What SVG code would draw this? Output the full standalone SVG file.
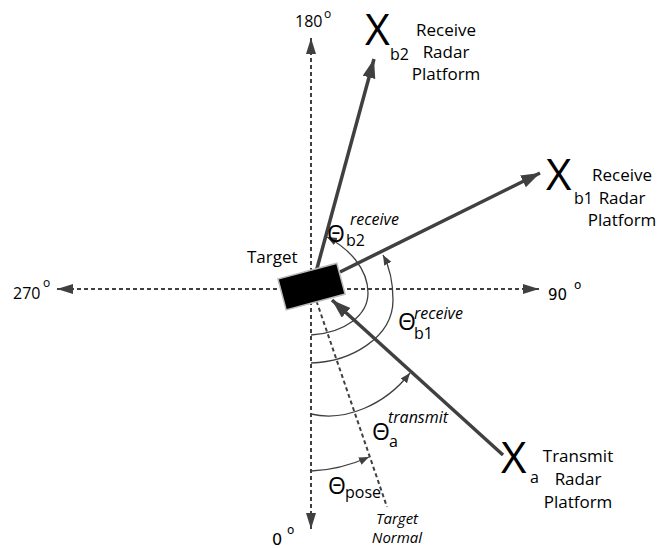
<svg xmlns="http://www.w3.org/2000/svg" width="666" height="548" viewBox="0 0 666 548">
<defs>
<style>
.axis{stroke:#404040;stroke-width:2;stroke-dasharray:4 3;fill:none}
.thick{stroke:#404040;stroke-width:3.5;fill:none}
.arc{stroke:#404040;stroke-width:1.3;fill:none}
.t{font-family:"Open Sans","Liberation Sans",sans-serif;fill:#000}
.dv{font-family:"DejaVu Sans",sans-serif;fill:#000}
.it{font-style:italic}
</style>
<marker id="ha" markerUnits="userSpaceOnUse" markerWidth="18" markerHeight="12" refX="16" refY="5" orient="auto">
<path d="M0,0 L16,5 L0,10 Z" fill="#404040"/>
</marker>
<marker id="hb" markerUnits="userSpaceOnUse" markerWidth="22" markerHeight="14" refX="19" refY="6.5" orient="auto">
<path d="M0,0 L19,6.5 L0,13 Z" fill="#404040"/>
</marker>
<marker id="hs" markerUnits="userSpaceOnUse" markerWidth="12" markerHeight="10" refX="10" refY="4" orient="auto">
<path d="M0,0 L10,4 L0,8 Z" fill="#404040"/>
</marker>
</defs>

<g id="connectors">
<line class="axis" x1="311" y1="300" x2="311" y2="38" marker-end="url(#ha)"/>
<line class="axis" x1="311" y1="280" x2="311" y2="529" marker-end="url(#ha)"/>
<line class="axis" x1="312" y1="289" x2="57" y2="289" marker-end="url(#ha)"/>
<line class="axis" x1="312" y1="289" x2="539" y2="289" marker-end="url(#ha)"/>
<line class="axis" x1="312" y1="288" x2="387" y2="507"/>
<line class="thick" x1="316" y1="272" x2="374" y2="59" marker-end="url(#hb)"/>
<line class="thick" x1="340" y1="272" x2="540" y2="173" marker-end="url(#hb)"/>
<line class="thick" x1="503" y1="455" x2="332" y2="300" marker-end="url(#hb)"/>
<path class="arc" d="M311,471 Q340,470 369,457" marker-end="url(#hs)"/>
<path class="arc" d="M311,414 C345,422 385,405 410,373" marker-end="url(#hs)"/>
<path class="arc" d="M311,363 C350,362 393,338 393,300 C393,282 389,266 383,255" marker-end="url(#hs)"/>
<path class="arc" d="M311,335 C345,333 368,315 368,293 C368,268 348,248 327,237" marker-end="url(#hs)"/>
</g>

<g id="target">
<rect x="281" y="270.5" width="61" height="32" transform="rotate(-15 311.75 286.5)" fill="#000" stroke="#bbbbbb" stroke-width="1.5"/>
<text class="t" x="247" y="263" font-size="17">Target</text>
</g>

<g id="axis-labels">
<text class="t" x="295" y="27" font-size="16">180</text>
<text class="t" x="324" y="18" font-size="12">o</text>
<text class="t" x="13" y="299" font-size="16">270</text>
<text class="t" x="43" y="287" font-size="12">o</text>
<text class="dv" x="548" y="300" font-size="15">90</text>
<text class="dv" x="574" y="289" font-size="12">o</text>
<text class="dv" x="272" y="545" font-size="16">0</text>
<text class="dv" x="287" y="534" font-size="12">o</text>
</g>

<g id="xb2">
<text class="t" x="365" y="45" font-size="43">X</text>
<text class="t" x="390" y="60" font-size="16">b2</text>
<text class="t" x="446" y="36" font-size="17" text-anchor="middle">Receive</text>
<text class="t" x="446" y="58" font-size="17" text-anchor="middle">Radar</text>
<text class="t" x="446" y="80" font-size="17" text-anchor="middle">Platform</text>
</g>

<g id="xb1">
<text class="t" x="546" y="190" font-size="44">X</text>
<text class="t" x="574" y="204" font-size="16">b1</text>
<text class="t" x="622" y="181" font-size="17" text-anchor="middle">Receive</text>
<text class="t" x="622" y="204" font-size="17" text-anchor="middle">Radar</text>
<text class="t" x="622" y="226" font-size="17" text-anchor="middle">Platform</text>
</g>

<g id="xa">
<text class="t" x="501" y="473" font-size="44">X</text>
<text class="t" x="530" y="483" font-size="16">a</text>
<text class="t" x="578" y="462" font-size="17" text-anchor="middle">Transmit</text>
<text class="t" x="578" y="485" font-size="17" text-anchor="middle">Radar</text>
<text class="t" x="578" y="508" font-size="17" text-anchor="middle">Platform</text>
</g>

<g id="theta-b2">
<text class="t" x="327" y="242" font-size="23">Θ</text>
<text class="t" x="346" y="246" font-size="16">b2</text>
<text class="t it" x="350" y="225" font-size="16">receive</text>
</g>
<g id="theta-b1">
<text class="t" x="398" y="330" font-size="23">Θ</text>
<text class="t" x="414" y="339" font-size="16">b1</text>
<text class="t it" x="414" y="319" font-size="16">receive</text>
</g>
<g id="theta-a">
<text class="t" x="372" y="440" font-size="23">Θ</text>
<text class="t" x="389" y="447" font-size="16">a</text>
<text class="t it" x="388" y="423" font-size="16">transmit</text>
</g>
<g id="theta-pose">
<text class="t" x="328" y="494" font-size="23">Θ</text>
<text class="t" x="345" y="498" font-size="16">pose</text>
</g>
<g id="target-normal">
<text class="t it" x="397" y="524" font-size="15" text-anchor="middle">Target</text>
<text class="t it" x="397" y="543" font-size="15" text-anchor="middle">Normal</text>
</g>
</svg>
